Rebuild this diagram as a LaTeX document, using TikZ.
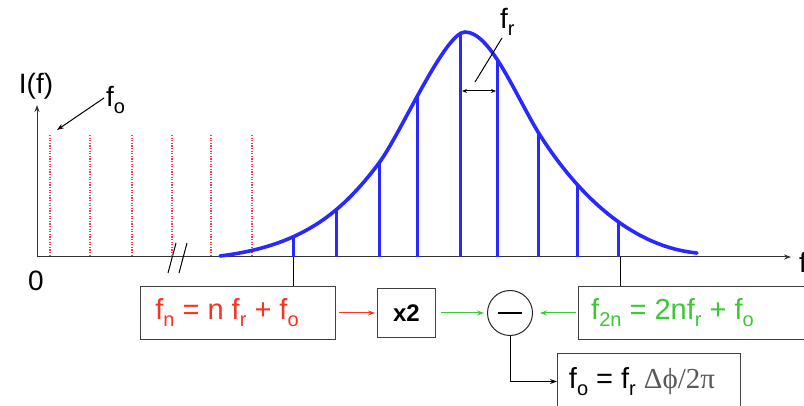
\documentclass[tikz,border=0pt]{standalone}
\usepackage{fontspec}
\setmainfont{Liberation Sans}
\newfontfamily\greekserif{Liberation Serif}
\usepackage{tikz}
\usetikzlibrary{arrows.meta, positioning, calc}
\newcommand{\lowidx}[1]{\raisebox{-0.45ex}{\fontsize{20}{20}\selectfont #1}}

\begin{document}
\begin{tikzpicture}[
    x=1pt, y=-1pt,
    txt/.style={font=\fontsize{28}{30}\selectfont, inner sep=0pt},
    eqbox/.style={rectangle, draw=black!75, line width=1pt, minimum height=53pt, inner sep=0pt, font=\fontsize{29}{30}\selectfont},
    comb/.style={draw={rgb,255:red,40;green,40;blue,255}, line width=3pt},
    offs/.style={draw={rgb,255:red,245;green,60;blue,80}, line width=1.3pt, dash pattern=on 1.2pt off 1.4pt},
    axis/.style={draw=black!80, line width=1pt},
    arrow/.style={-{Stealth[length=7pt, width=5pt]}, line width=1pt}
]
    \definecolor{fnred}{RGB}{250,50,30}
    \definecolor{fgreen}{RGB}{60,200,50}
    \useasboundingbox (0,0) rectangle (804,406);

    % axes
    \coordinate (origin) at (37,257);
    \draw[axis, arrow] (origin) -- (37,105);
    \draw[axis, arrow] (origin) -- (791,257);
    \node[txt, anchor=west] (faxis) at (799,262) {f};
    \node[txt] (intens) at (36,86) {I(f)};
    \node[txt] (zero) at (36,281) {0};
    \draw[line width=1pt] (168,273) -- (176,243) (179,273) -- (187,243);

    % offset comb
    \foreach \xx in {50,90,132,172,211,252}
        \draw[offs] (\xx,135) -- (\xx,257);
    \node[txt, anchor=west] (folabel) at (106,100) {f\lowidx{o}};
    \draw[arrow] (folabel.west) ++(-2,-2) -- (57,130);

    % envelope and comb teeth
    \def\envelope{(220,256) .. controls (300,246) and (340,215) .. (379,163)
        .. controls (400,135) and (445,32) .. (465,32)
        .. controls (490,32) and (514,92) .. (538,132)
        .. controls (560,167) and (615,245) .. (697,253)}
    \begin{scope}
        \clip \envelope -- (697,257) -- (220,257) -- cycle;
        \foreach \xx in {293,336,379,417,460,497,538,577,618}
            \draw[comb] (\xx,257) -- (\xx,20);
    \end{scope}
    \draw[comb, line width=3.6pt, line cap=round] \envelope;

    % spacing f_r
    \node[txt, anchor=west] (frlabel) at (500,22) {f\lowidx{r}};
    \draw[line width=1pt] (502,38) -- (475,82);
    \draw[{Stealth[length=5pt, width=4pt]}-{Stealth[length=5pt, width=4pt]}, line width=1pt] (462,91) -- (496,91);

    % boxes
    \node[eqbox, minimum width=195pt, text=fnred, anchor=north west] (fn) at (140,286) {f\lowidx{n} = n f\lowidx{r} + f\lowidx{o}\kern22pt};
    \node[eqbox, minimum width=58pt, minimum height=49pt, font=\fontsize{24}{26}\selectfont\bfseries, anchor=north west] (double) at (377,288) {x2};
    \node[circle, draw=black!85, line width=1pt, minimum size=45pt, inner sep=0pt] (minus) at (510,313) {};
    \draw[line width=1.2pt] ($(minus.center)+(-12,0)$) -- ($(minus.center)+(12,0)$);
    \node[eqbox, minimum width=226pt, text=fgreen, anchor=north west] (f2n) at (578,286) {f\lowidx{2n} = 2nf\lowidx{r} + f\lowidx{o}\kern38pt};
    \node[eqbox, minimum width=183pt, minimum height=56pt, anchor=north west] (fo) at (557,353) {f\lowidx{o} = f\lowidx{r} {\greekserif\color{black!65}Δϕ/2π}\kern14pt};

    % ticks to boxes
    \coordinate (tickn) at (293,257);
    \coordinate (tick2n) at (620,257);
    \draw[line width=1pt] (tickn) -- (tickn |- fn.north);
    \draw[line width=1pt] (tick2n) -- (tick2n |- f2n.north);

    % connectors
    \draw[arrow, draw=fnred, fill=fnred] ($(fn.east)+(3,0)$) -- ($(double.west)+(-2,0)$);
    \draw[arrow, draw=fgreen, fill=fgreen] ($(double.east)+(5,0)$) -- ($(minus.west)+(-3,0)$);
    \draw[arrow, draw=fgreen, fill=fgreen] ($(f2n.west)+(-2,0)$) -- ($(minus.east)+(7,0)$);
    \draw[arrow] (minus.south) |- (fo.west);

\end{tikzpicture}
\end{document}
